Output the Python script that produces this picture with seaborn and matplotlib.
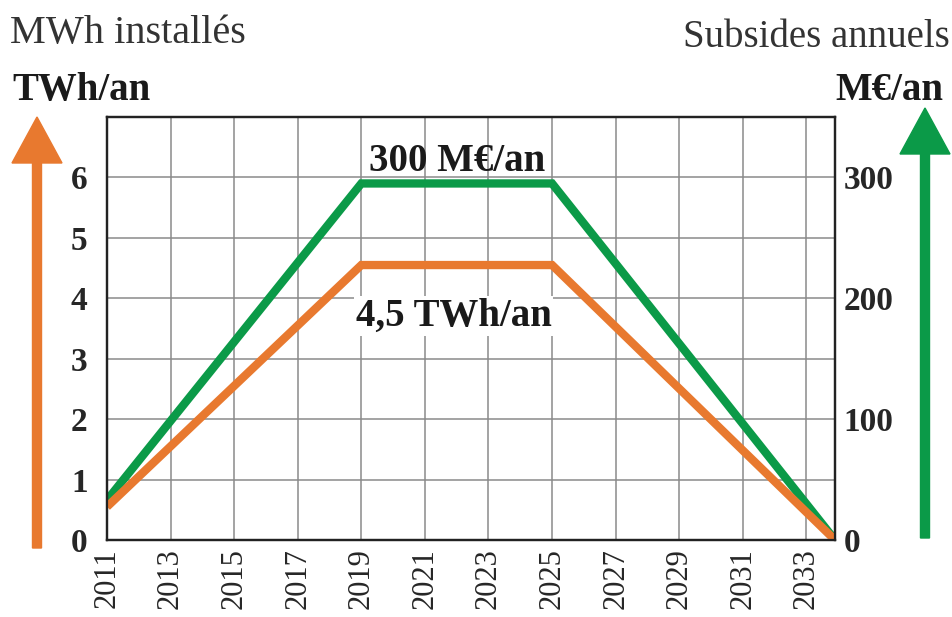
import pandas as pd
import seaborn as sns
import matplotlib
matplotlib.use('Agg')
import matplotlib.pyplot as plt
import matplotlib.patches as mpatches

# Values
years = [2011, 2019, 2025, 2033.9]
twh_installed = [0.55, 4.55, 4.55, 0.0]      # TWh/an (left axis)
subsidies = [33, 295, 295, 0]               # M€/an (right axis)
year_ticks = list(range(2011, 2034, 2))
twh_ticks = [0, 1, 2, 3, 4, 5, 6]
meur_ticks = [0, 100, 200, 300]

orange = '#e8792f'
green = '#0b9a48'

sns.set_style('white')
plt.rcParams['font.family'] = ['Liberation Serif', 'DejaVu Serif']

df = pd.DataFrame({'year': years, 'twh': twh_installed, 'meur': subsidies})

fig = plt.figure(figsize=(9.52, 6.17), dpi=100)
ax = fig.add_axes([0.1124, 0.1248, 0.7647, 0.6856])
ax2 = ax.twinx()

# twin axis goes behind so the orange line is drawn on top of the green one
ax2.set_zorder(ax.get_zorder() - 1)
ax.patch.set_visible(False)
ax2.patch.set_visible(True)
ax2.patch.set_facecolor('white')

sns.lineplot(x='year', y='meur', data=df, ax=ax2, color=green, lw=6,
             solid_joinstyle='miter', solid_capstyle='butt')
sns.lineplot(x='year', y='twh', data=df, ax=ax, color=orange, lw=6,
             solid_joinstyle='miter', solid_capstyle='butt')

ax.set_xlim(2011, 2033.9)
ax.set_ylim(0, 7)
ax2.set_ylim(0, 350)

ax.set_xticks(year_ticks)
ax.set_xticklabels([str(y) for y in year_ticks], rotation=90, fontsize=22)
ax.set_yticks(twh_ticks)
ax.set_yticklabels([str(t) for t in twh_ticks], fontsize=24, fontweight='bold')
ax2.set_yticks(meur_ticks)
ax2.set_yticks([50, 150, 250], minor=True)
ax2.set_yticklabels([str(t) for t in meur_ticks], fontsize=24, fontweight='bold')

ax.tick_params(axis='both', length=0)
ax.tick_params(axis='y', pad=14)
ax.tick_params(axis='x', pad=6)
ax2.tick_params(axis='y', which='both', length=0, pad=6)

# grid lives on the back axis so it stays under both lines
ax2.xaxis.set_visible(True)
ax2.tick_params(axis='x', length=0, labelbottom=False, labeltop=False)
ax2.grid(True, which='both', axis='y', color='#8a8a8a', lw=1.1)
ax2.grid(True, which='major', axis='x', color='#8a8a8a', lw=1.1)
ax2.set_axisbelow(True)

ax.set_xlabel('')
ax.set_ylabel('')
ax2.set_xlabel('')
ax2.set_ylabel('')
for a in (ax, ax2):
    for s in a.spines.values():
        s.set_color('#222222')
        s.set_linewidth(1.6)

ax.text(2022.0, 6.27, '300 M€/an', ha='center', va='center', fontsize=28,
        fontweight='bold', color='#1a1a1a')
ax.text(2021.9, 3.7, '4,5 TWh/an', ha='center', va='center', fontsize=28,
        fontweight='bold', color='#1a1a1a',
        bbox=dict(facecolor='white', edgecolor='none', pad=1))

fig.text(10 / 952, 1 - 43 / 617, 'MWh installés', ha='left', va='baseline',
         fontsize=29, color='#333333')
fig.text(12 / 952, 1 - 100 / 617, 'TWh/an', ha='left', va='baseline',
         fontsize=28, fontweight='bold', color='#1a1a1a')
fig.text(950 / 952, 1 - 47 / 617, 'Subsides annuels', ha='right', va='baseline',
         fontsize=28, color='#333333')
fig.text(943 / 952, 1 - 100 / 617, 'M€/an', ha='right', va='baseline',
         fontsize=28, fontweight='bold', color='#1a1a1a')

# the two colour arrows beside the axes (inches from bottom-left)
arrow_left = mpatches.FancyArrow(0.37, 0.69, 0, 5.0 - 0.69, width=0.09,
                                 head_width=0.5, head_length=0.46,
                                 length_includes_head=True, color=orange,
                                 transform=fig.dpi_scale_trans)
arrow_right = mpatches.FancyArrow(9.25, 0.79, 0, 5.09 - 0.79, width=0.09,
                                  head_width=0.5, head_length=0.46,
                                  length_includes_head=True, color=green,
                                  transform=fig.dpi_scale_trans)
fig.patches.extend([arrow_left, arrow_right])

plt.savefig('out.png', dpi=100)
